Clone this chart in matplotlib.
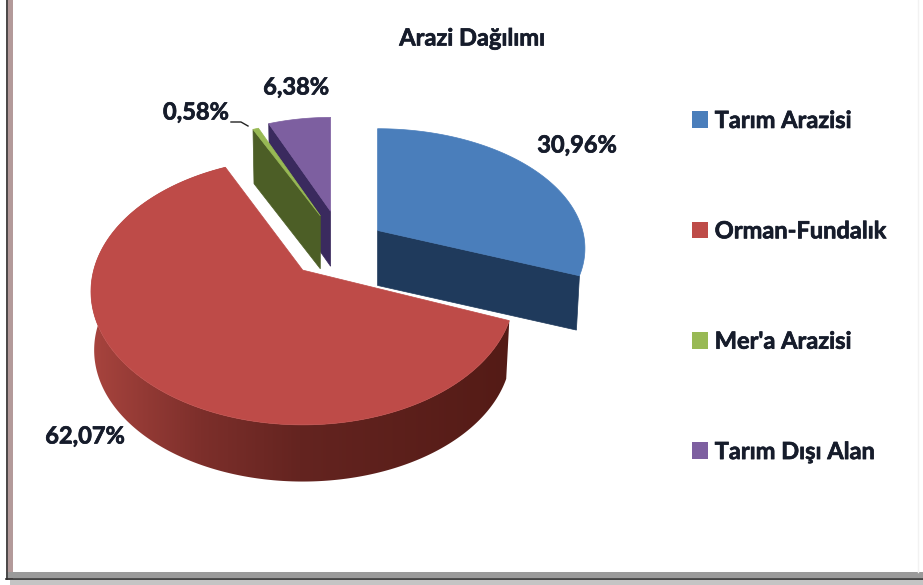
import numpy as np
import matplotlib
matplotlib.use('Agg')
import matplotlib.pyplot as plt
import matplotlib.patheffects as pe
from matplotlib.patches import Patch, Polygon, Rectangle

plt.rcParams['font.family'] = ['Lato', 'DejaVu Sans']

# data
categories = ['Tarım Arazisi', 'Orman-Fundalık', "Mer'a Arazisi", 'Tarım Dışı Alan']
values = [30.96, 62.07, 0.58, 6.38]
title = 'Arazi Dağılımı'

# styles
top_colors = ['#4a7ebb', '#be4b48', '#98b954', '#7d5fa0']
side_colors = ['#1f3a5c', '#5e1f1b', '#4c5e26', '#3a2a5e']
explode = [0.21, 0.28, 0.26, 0.28]
scale = [1.0, 1.0, 0.92, 0.92]
rx_list = [205, 209, 205, 205]
ry_list = [117, 130, 123, 123]
persp_list = [0.15, 0.16, 0.206, 0.206]
depth_list = [55, 59, 53, 55]
label_pos = [(577, 145), (85, 436), (196, 112), (296, 87)]
text_color = '#161c2b'
bold = [pe.withStroke(linewidth=0.5, foreground=text_color)]

# pseudo 3d pie geometry, pixels
cx, cy = 342, 245
shrink = 0.985


def disc(theta, r, rx, ry, persp):
    # theta is clockwise from 12 o'clock, perspective around the slice apex
    u = np.sin(theta)
    v = -np.cos(theta)
    d = 1 - persp * v
    return r * rx * u / d, r * ry * v / d


fig = plt.figure(figsize=(9.23, 5.85), dpi=100)
ax = fig.add_axes([0, 0, 1, 1])

# frame of the screenshot
ax.add_patch(Rectangle((6, -5), 7, 585, fc='#b39a9a', ec='none', zorder=1))
ax.plot([6.5, 6.5], [0, 579], color='#3a3a3a', lw=1.2, zorder=2)
ax.add_patch(Rectangle((6, 572), 917, 6, fc='#9a9a9a', ec='none', zorder=1))
ax.plot([6, 923], [578.5, 578.5], color='#2c2c2c', lw=1.2, zorder=2)
ax.add_patch(Rectangle((10, 579), 913, 6, fc='#c4c4c4', ec='none', zorder=1))
ax.plot([918, 918], [0, 572], color='#f2f2f2', lw=1, zorder=1)

shares = np.array(values) / sum(values)
edges = np.concatenate([[0], np.cumsum(shares)]) * 2 * np.pi

# back to front
draw_order = [3, 2, 0, 1]
z = 5
for i in draw_order:
    a0, a1 = edges[i], edges[i + 1]
    mid = (a0 + a1) / 2
    ax0 = cx + explode[i] * 205 * np.sin(mid)
    ay0 = cy - explode[i] * 123 * np.cos(mid)
    depth = depth_list[i]
    th = np.linspace(a0, a1, 300)
    x, y = disc(th, scale[i], rx_list[i], ry_list[i], persp_list[i])
    xt, yt = ax0 + x, ay0 + y
    xb, yb = ax0 + x * shrink, ay0 + y * shrink + depth

    if i == 1:
        # outer wall, shaded from left to right
        stops_x = [90, 200, 300, 510]
        stops = np.array([[168, 68, 62], [125, 47, 43], [100, 36, 32], [84, 27, 22]]) / 255
        gx = np.linspace(85, 515, 256)
        grad = np.stack([np.interp(gx, stops_x, stops[:, n]) for n in range(3)], axis=-1)[np.newaxis, :, :]
        wall = Polygon(np.column_stack([np.r_[xt, xb[::-1]], np.r_[yt, yb[::-1]]]), fc='none', ec='none',
                       transform=ax.transData)
        ax.add_patch(wall)
        im = ax.imshow(grad, extent=(85, 515, 500, 150), aspect='auto', zorder=z, interpolation='bilinear')
        im.set_clip_path(wall)
    else:
        # cut face that looks to the viewer
        edge = -1 if i == 0 else 0
        quad = [(ax0, ay0), (xt[edge], yt[edge]), (xb[edge], yb[edge]), (ax0, ay0 + depth)]
        ax.add_patch(Polygon(quad, fc=side_colors[i], ec=side_colors[i], lw=0.5, zorder=z))
    z += 1
    top = np.column_stack([np.r_[ax0, xt], np.r_[ay0, yt]])
    ax.add_patch(Polygon(top, fc=top_colors[i], ec=top_colors[i], lw=0.5, zorder=z))
    z += 1

ax.set_xlim(0, 923)
ax.set_ylim(585, 0)
ax.axis('off')

ax.text(472, 38, title, fontsize=17, fontweight='bold', color=text_color, ha='center', va='center', zorder=30,
        path_effects=bold)

for v, pos in zip(values, label_pos):
    label = f'{v:.2f}%'.replace('.', ',')
    ax.text(pos[0], pos[1], label, fontsize=17, fontweight='bold', color=text_color, ha='center', va='center',
            zorder=30, path_effects=bold)

# leader line of the small slice
ax.plot([231, 241, 248], [122, 122, 126], color='#222222', lw=1, zorder=30)

handles = [Patch(fc=c, ec='none', label=n) for c, n in zip(top_colors, categories)]
leg = ax.legend(handles=handles, loc='center left', bbox_to_anchor=(671, 286), bbox_transform=ax.transData,
                frameon=False, labelspacing=3.7, handlelength=0.65, handleheight=0.72,
                handletextpad=0.3, labelcolor=text_color, prop={'weight': 'bold', 'size': 17})
for t in leg.get_texts():
    t.set_path_effects(bold)

plt.savefig('out.png', dpi=100)
print('saved')
